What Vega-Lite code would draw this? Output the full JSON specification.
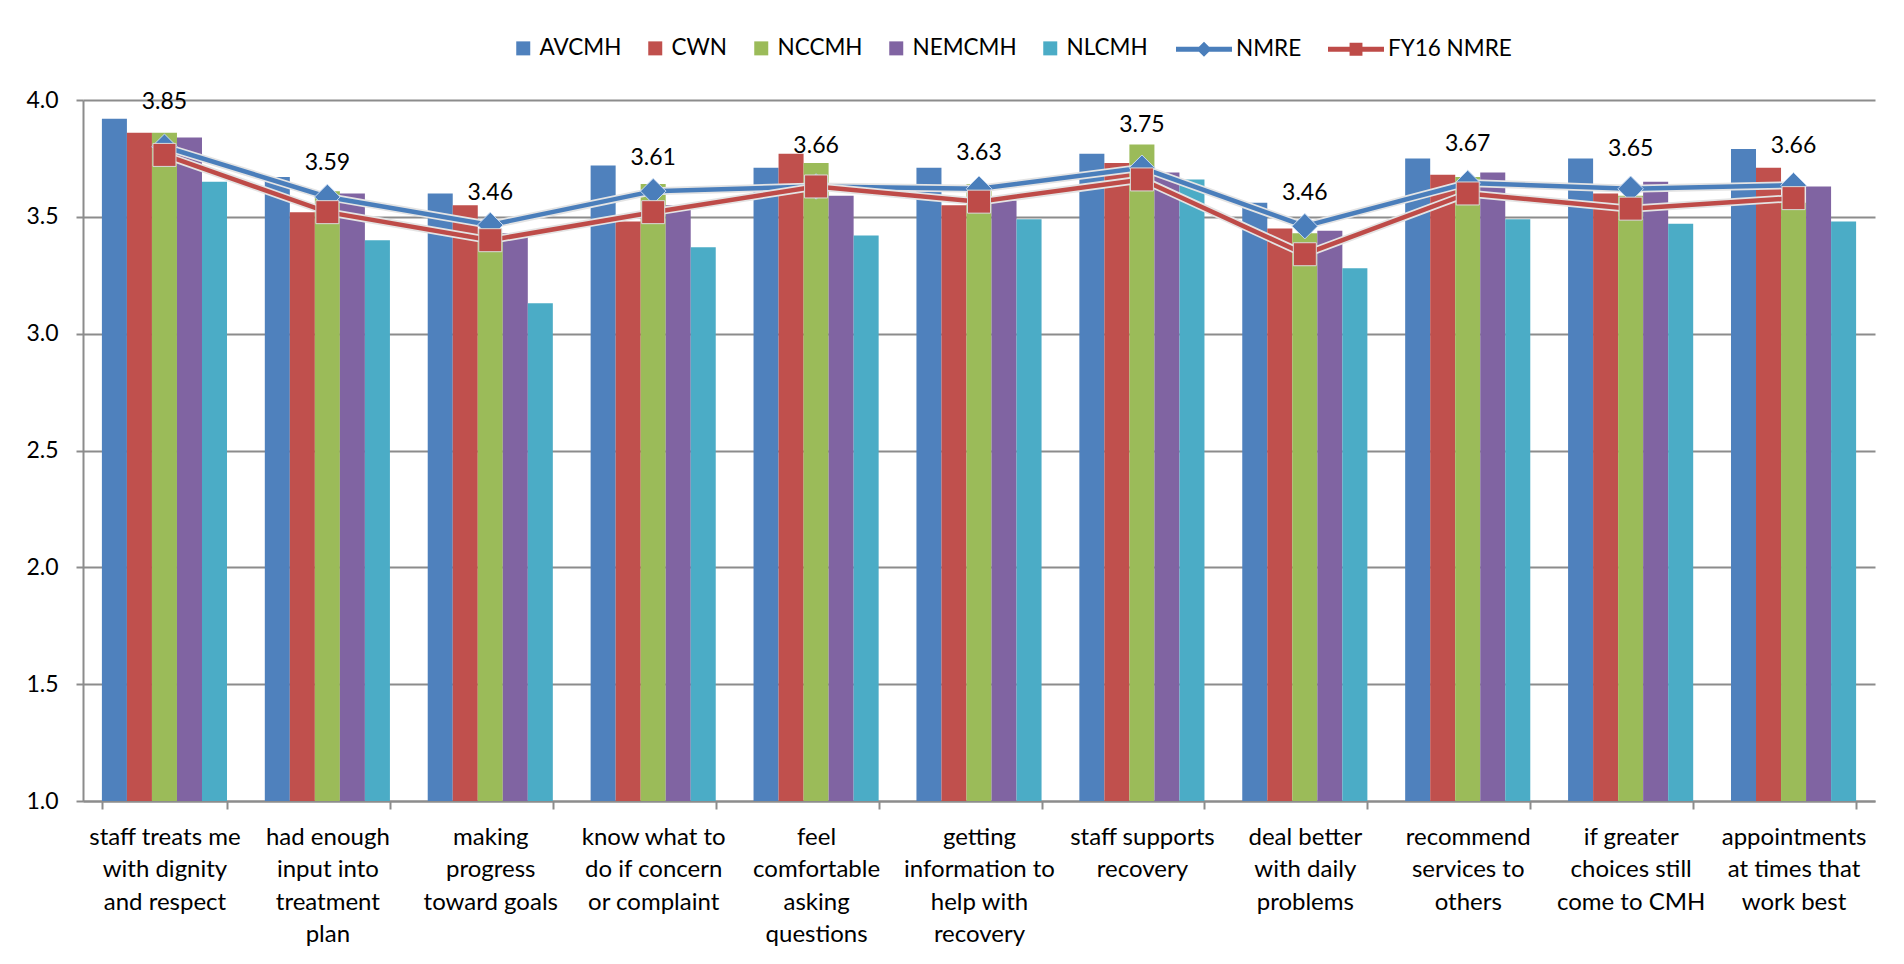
{
  "$schema": "https://vega.github.io/schema/vega-lite/v6.json",
  "width": 1792,
  "height": 701,
  "autosize": {"type": "none"},
  "padding": {"left": 83, "top": 100, "right": 29, "bottom": 163},
  "background": "white",
  "config": {"font": "Lato", "view": {"stroke": null}},
  "data": {
    "values": [
      {"q": "staff treats me|with dignity|and respect", "AVCMH": 3.92, "CWN": 3.86, "NCCMH": 3.86, "NEMCMH": 3.84, "NLCMH": 3.65, "NMRE": 3.80, "FY16 NMRE": 3.765, "label": 3.85},
      {"q": "had enough|input into|treatment|plan", "AVCMH": 3.67, "CWN": 3.52, "NCCMH": 3.61, "NEMCMH": 3.60, "NLCMH": 3.40, "NMRE": 3.585, "FY16 NMRE": 3.52, "label": 3.59},
      {"q": "making|progress|toward goals", "AVCMH": 3.60, "CWN": 3.55, "NCCMH": 3.43, "NEMCMH": 3.43, "NLCMH": 3.13, "NMRE": 3.465, "FY16 NMRE": 3.40, "label": 3.46},
      {"q": "know what to|do if concern|or complaint", "AVCMH": 3.72, "CWN": 3.48, "NCCMH": 3.64, "NEMCMH": 3.55, "NLCMH": 3.37, "NMRE": 3.61, "FY16 NMRE": 3.52, "label": 3.61},
      {"q": "feel|comfortable|asking|questions", "AVCMH": 3.71, "CWN": 3.77, "NCCMH": 3.73, "NEMCMH": 3.59, "NLCMH": 3.42, "NMRE": 3.63, "FY16 NMRE": 3.63, "label": 3.66},
      {"q": "getting|information to|help with|recovery", "AVCMH": 3.71, "CWN": 3.55, "NCCMH": 3.64, "NEMCMH": 3.57, "NLCMH": 3.49, "NMRE": 3.62, "FY16 NMRE": 3.565, "label": 3.63},
      {"q": "staff supports|recovery", "AVCMH": 3.77, "CWN": 3.73, "NCCMH": 3.81, "NEMCMH": 3.69, "NLCMH": 3.66, "NMRE": 3.71, "FY16 NMRE": 3.66, "label": 3.75},
      {"q": "deal better|with daily|problems", "AVCMH": 3.56, "CWN": 3.45, "NCCMH": 3.43, "NEMCMH": 3.44, "NLCMH": 3.28, "NMRE": 3.46, "FY16 NMRE": 3.34, "label": 3.46},
      {"q": "recommend|services to|others", "AVCMH": 3.75, "CWN": 3.68, "NCCMH": 3.67, "NEMCMH": 3.69, "NLCMH": 3.49, "NMRE": 3.645, "FY16 NMRE": 3.60, "label": 3.67},
      {"q": "if greater|choices still|come to CMH", "AVCMH": 3.75, "CWN": 3.60, "NCCMH": 3.59, "NEMCMH": 3.65, "NLCMH": 3.47, "NMRE": 3.62, "FY16 NMRE": 3.535, "label": 3.65},
      {"q": "appointments|at times that|work best", "AVCMH": 3.79, "CWN": 3.71, "NCCMH": 3.56, "NEMCMH": 3.63, "NLCMH": 3.48, "NMRE": 3.635, "FY16 NMRE": 3.58, "label": 3.66}
    ]
  },
  "encoding": {
    "x": {
      "field": "q",
      "type": "nominal",
      "sort": null,
      "scale": {"paddingInner": 0.232, "paddingOuter": 0.116},
      "axis": {
        "title": null,
        "labelAngle": 0,
        "labelExpr": "split(datum.label, '|')",
        "labelFontSize": 24,
        "labelLineHeight": 32.5,
        "labelColor": "black",
        "labelPadding": 16,
        "labelLimit": 400,
        "labelOverlap": false,
        "labelBaseline": "top",
        "tickBand": "extent",
        "tickSize": 8,
        "tickColor": "#8c8c8c",
        "tickWidth": 2,
        "domainColor": "#8c8c8c",
        "domainWidth": 2,
        "grid": false
      }
    }
  },
  "layer": [
    {
      "transform": [{"fold": ["AVCMH", "CWN", "NCCMH", "NEMCMH", "NLCMH"], "as": ["site", "value"]}],
      "mark": {"type": "bar"},
      "encoding": {
        "xOffset": {"field": "site", "type": "nominal", "sort": ["AVCMH", "CWN", "NCCMH", "NEMCMH", "NLCMH"], "scale": {"paddingInner": 0, "paddingOuter": 0}},
        "y": {
          "field": "value",
          "type": "quantitative",
          "title": null,
          "scale": {"domain": [1, 4], "zero": false, "nice": false},
          "axis": {
            "title": null,
            "values": [1, 1.5, 2, 2.5, 3, 3.5, 4],
            "format": ".1f",
            "grid": true,
            "gridColor": "#8c8c8c",
            "gridWidth": 2,
            "domainColor": "#8c8c8c",
            "domainWidth": 2,
            "tickColor": "#8c8c8c",
            "tickWidth": 2,
            "tickSize": 7,
            "labelPadding": 18,
            "labelFontSize": 23,
            "labelColor": "black"
          }
        },
        "y2": {"datum": 1},
        "fill": {
          "field": "site",
          "type": "nominal",
          "scale": {"domain": ["AVCMH", "CWN", "NCCMH", "NEMCMH", "NLCMH"], "range": ["#4F81BD", "#C0504D", "#9BBB59", "#8064A2", "#4BACC6"]},
          "legend": {
            "title": null,
            "orient": "none",
            "legendX": 429,
            "legendY": -63,
            "direction": "horizontal",
            "padding": 0,
            "symbolType": "square",
            "symbolSize": 196,
            "symbolStrokeWidth": 0,
            "labelFontSize": 22.5,
            "labelColor": "black",
            "labelOffset": 5,
            "columnPadding": 22
          }
        }
      }
    },
    {
      "mark": {"type": "line", "color": "#e4e4e4", "strokeWidth": 8},
      "encoding": {"y": {"field": "NMRE", "type": "quantitative", "title": null}}
    },
    {
      "mark": {"type": "line", "color": "#4A7EBB", "strokeWidth": 4.5},
      "encoding": {"y": {"field": "NMRE", "type": "quantitative", "title": null}}
    },
    {
      "mark": {"type": "point", "shape": "diamond", "filled": true, "size": 650, "color": "#4A7EBB", "stroke": "#c6d9f1", "strokeWidth": 1, "opacity": 1},
      "encoding": {"y": {"field": "NMRE", "type": "quantitative", "title": null}}
    },
    {
      "mark": {"type": "line", "color": "#e4e4e4", "strokeWidth": 8},
      "encoding": {"y": {"field": "FY16 NMRE", "type": "quantitative", "title": null}}
    },
    {
      "mark": {"type": "line", "color": "#BE4B48", "strokeWidth": 4.5},
      "encoding": {"y": {"field": "FY16 NMRE", "type": "quantitative", "title": null}}
    },
    {
      "mark": {"type": "point", "shape": "square", "filled": true, "size": 529, "color": "#BE4B48", "stroke": "#d9d9d9", "strokeWidth": 1, "opacity": 1},
      "encoding": {"y": {"field": "FY16 NMRE", "type": "quantitative", "title": null}}
    },
    {
      "transform": [{"fold": ["NMRE", "FY16 NMRE"], "as": ["series", "value"]}],
      "mark": {"type": "point", "filled": true, "opacity": 0},
      "encoding": {
        "y": {"field": "value", "type": "quantitative", "title": null},
        "color": {
          "field": "series",
          "type": "nominal",
          "scale": {"domain": ["NMRE", "FY16 NMRE"], "range": ["#4A7EBB", "#BE4B48"]},
          "legend": {
            "title": null,
            "orient": "none",
            "legendX": 1093,
            "legendY": -79,
            "direction": "horizontal",
            "padding": 0,
            "symbolSize": 3136,
            "symbolOpacity": 1,
            "symbolStrokeWidth": 0,
            "labelFontSize": 22.5,
            "labelColor": "black",
            "labelOffset": 4,
            "columnPadding": 26
          }
        },
        "shape": {
          "field": "series",
          "type": "nominal",
          "scale": {"domain": ["NMRE", "FY16 NMRE"], "range": ["M-1,-0.09H1V0.09H-1Z M0,-0.27L0.27,0L0,0.27L-0.27,0Z", "M-1,-0.09H1V0.09H-1Z M-0.23,-0.23H0.23V0.23H-0.23Z"]},
          "legend": {
            "title": null,
            "orient": "none",
            "legendX": 1093,
            "legendY": -79,
            "direction": "horizontal",
            "padding": 0,
            "symbolSize": 3136,
            "symbolOpacity": 1,
            "symbolStrokeWidth": 0,
            "labelFontSize": 22.5,
            "labelColor": "black",
            "labelOffset": 4,
            "columnPadding": 26
          }
        }
      }
    },
    {
      "mark": {"type": "text", "dy": -33, "fontSize": 23, "color": "black", "baseline": "middle"},
      "encoding": {
        "y": {"field": "label", "type": "quantitative", "title": null},
        "text": {"field": "label", "type": "quantitative", "format": ".2f"}
      }
    }
  ]
}
